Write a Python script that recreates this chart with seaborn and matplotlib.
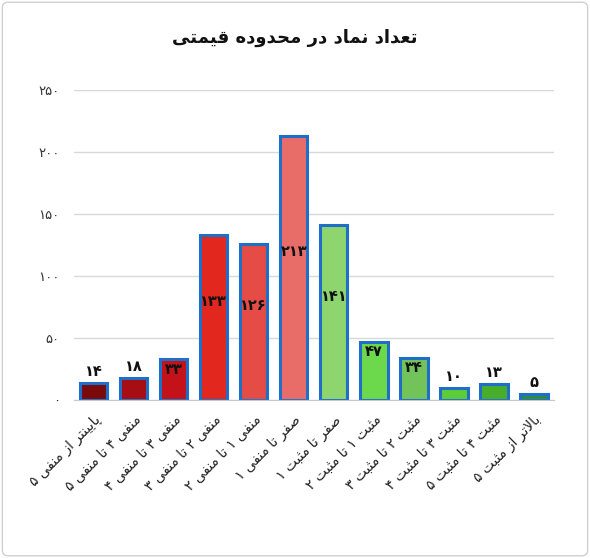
import re
import matplotlib
matplotlib.use("Agg")
import matplotlib.pyplot as plt
import seaborn as sns
import pandas as pd
from matplotlib.patches import FancyBboxPatch

# --- Data ---
categories = [
    "پایینتر از منفی ۵", "منفی ۴ تا منفی ۵", "منفی ۳ تا منفی ۴", "منفی ۲ تا منفی ۳",
    "منفی ۱ تا منفی ۲", "صفر تا منفی ۱", "صفر تا مثبت ۱", "مثبت ۱ تا مثبت ۲",
    "مثبت ۲ تا مثبت ۳", "مثبت ۳ تا مثبت ۴", "مثبت ۴ تا مثبت ۵", "بالاتر از مثبت ۵",
]
counts = [14, 18, 33, 133, 126, 213, 141, 47, 34, 10, 13, 5]
bar_colors = ["#7a0a0c", "#a60e13", "#c3121a", "#e2271f", "#e44c45", "#e86d68",
              "#8ed46f", "#6cd84c", "#72c45a", "#5ccd38", "#49ad2c", "#2f8d3a"]
yticks = [0, 50, 100, 150, 200, 250]
title = "تعداد نماد در محدوده قیمتی"

# --- Minimal Persian shaping (matplotlib has no bidi / joining support) ---
# (isolated, final, initial, medial)
FORMS = {
    "ا": ("\uFE8D", "\uFE8E", None, None),
    "ب": ("\uFE8F", "\uFE90", "\uFE91", "\uFE92"),
    "پ": ("\uFB56", "\uFB57", "\uFB58", "\uFB59"),
    "ت": ("\uFE95", "\uFE96", "\uFE97", "\uFE98"),
    "ث": ("\uFE99", "\uFE9A", "\uFE9B", "\uFE9C"),
    "ح": ("\uFEA1", "\uFEA2", "\uFEA3", "\uFEA4"),
    "د": ("\uFEA9", "\uFEAA", None, None),
    "ر": ("\uFEAD", "\uFEAE", None, None),
    "ز": ("\uFEAF", "\uFEB0", None, None),
    "ص": ("\uFEB9", "\uFEBA", "\uFEBB", "\uFEBC"),
    "ع": ("\uFEC9", "\uFECA", "\uFECB", "\uFECC"),
    "ف": ("\uFED1", "\uFED2", "\uFED3", "\uFED4"),
    "ق": ("\uFED5", "\uFED6", "\uFED7", "\uFED8"),
    "ل": ("\uFEDD", "\uFEDE", "\uFEDF", "\uFEE0"),
    "م": ("\uFEE1", "\uFEE2", "\uFEE3", "\uFEE4"),
    "ن": ("\uFEE5", "\uFEE6", "\uFEE7", "\uFEE8"),
    "ه": ("\uFEE9", "\uFEEA", "\uFEEB", "\uFEEC"),
    "و": ("\uFEED", "\uFEEE", None, None),
    "ی": ("\uFBFC", "\uFBFD", "\uFBFE", "\uFBFF"),
}
FA_DIGITS = str.maketrans("0123456789", "۰۱۲۳۴۵۶۷۸۹")


def fa(text):
    chars = list(text)
    out = []
    i = 0
    while i < len(chars):
        ch = chars[i]
        prev = chars[i - 1] if i > 0 else None
        nxt = chars[i + 1] if i + 1 < len(chars) else None
        join_prev = prev in FORMS and FORMS[prev][2] is not None
        if ch not in FORMS:
            out.append(ch)
            i += 1
            continue
        if ch == "ل" and nxt == "ا":
            out.append("\uFEFC" if join_prev else "\uFEFB")
            i += 2
            continue
        join_next = nxt in FORMS and FORMS[ch][2] is not None
        iso, fin, ini, med = FORMS[ch]
        if join_prev and join_next:
            out.append(med)
        elif join_prev:
            out.append(fin)
        elif join_next:
            out.append(ini)
        else:
            out.append(iso)
        i += 1
    visual = "".join(out)[::-1]
    # digit runs keep left-to-right order
    return re.sub(r"[۰-۹0-9]+", lambda m: m.group(0)[::-1], visual)


df = pd.DataFrame({"range": categories, "count": counts})

sns.set_style("white")
plt.rcParams["font.family"] = ["DejaVu Sans"]

fig = plt.figure(figsize=(5.9, 5.58), dpi=100)
ax = fig.add_axes([0.125, 0.283, 0.814, 0.556])

sns.barplot(data=df, x="range", y="count", hue="range", palette=bar_colors,
            legend=False, width=0.68, edgecolor="#1f6fc9", linewidth=2.2,
            saturation=1, ax=ax)

ax.set_ylim(0, 250)
ax.set_xlim(-0.5, len(categories) - 0.5)
ax.set_yticks(yticks)
ax.set_yticklabels([str(t).translate(FA_DIGITS) for t in yticks], fontsize=9.5, color="#333333")
ax.yaxis.grid(True, color="#d9d9d9", linewidth=1)
ax.set_axisbelow(True)
ax.tick_params(axis="y", length=0, pad=10)

ax.set_xticks(range(len(categories)))
ax.set_xticklabels([fa(c) for c in categories], rotation=45, ha="right",
                   rotation_mode="anchor", fontsize=10, color="#222222")
ax.tick_params(axis="x", length=0, pad=9)
ax.set_xticks([i + 0.5 for i in range(-1, len(categories))], minor=True)
ax.tick_params(axis="x", which="minor", length=5, color="#c8c8c8", width=1)
ax.set_xlabel("")
ax.set_ylabel("")

for s in ["top", "right", "left"]:
    ax.spines[s].set_visible(False)
ax.spines["bottom"].set_color("#c8c8c8")

# data labels, placed roughly like the source chart
for i, v in enumerate(counts):
    lab = str(v).translate(FA_DIGITS)
    if v > 100:
        y, va = v / 2 + 13, "center"
    elif v > 30:
        y, va = v - 2, "top"
    else:
        y, va = v + 3, "bottom"
    ax.text(i, y, lab, ha="center", va=va, fontsize=10.5, fontweight="bold", color="#111111")

fig.text(0.5, 0.932, fa(title), ha="center", va="center", fontsize=13,
         fontweight="bold", color="#111111")

fig.patches.append(FancyBboxPatch((0.004, 0.004), 0.992, 0.992,
                                  boxstyle="round,pad=0,rounding_size=0.01",
                                  transform=fig.transFigure, fill=False,
                                  edgecolor="#d0d0d0", linewidth=1))

fig.savefig("out.png", dpi=100)
